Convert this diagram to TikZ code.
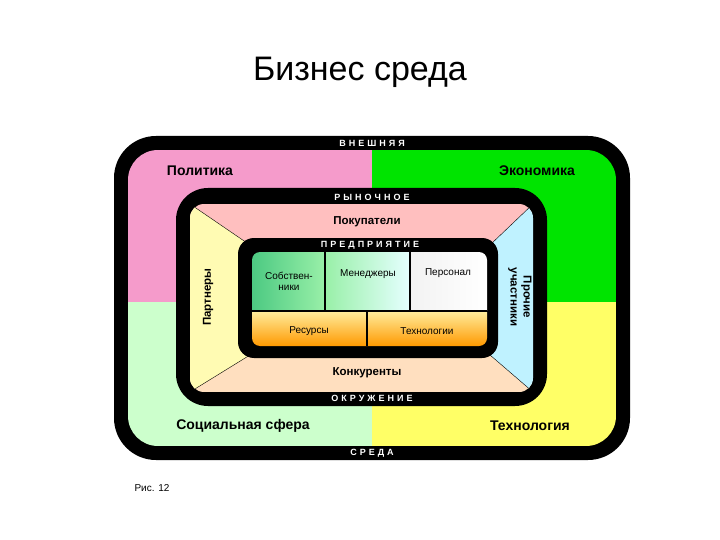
\documentclass[tikz,border=0pt]{standalone}
\usepackage{fontspec}
\setmainfont{Liberation Sans}
\definecolor{pk}{HTML}{F59BCB}
\definecolor{gr}{HTML}{00E400}
\definecolor{lg}{HTML}{CCFFCC}
\definecolor{yl}{HTML}{FFFF66}
\begin{document}
\begin{tikzpicture}[x=1pt,y=-1pt,
  lbl/.style={font=\bfseries\fontsize{14}{14}\selectfont},
  sp/.style={font=\bfseries\fontsize{9}{9}\selectfont,text=white},
  mid/.style={font=\bfseries\fontsize{11.5}{13}\selectfont},
  sm/.style={font=\fontsize{10}{11}\selectfont,align=center}]
\useasboundingbox (0,0) rectangle (720,540);
\fill[white] (0,0) rectangle (720,540);
\node (title) at (360,72) {\fontsize{34}{36}\selectfont Бизнес среда};
\node (fig) at (152,488) {\fontsize{10}{12}\selectfont Рис. 12};
% outer
\fill[black,rounded corners=42] (114,136) rectangle (630,460);
\begin{scope}
\clip[rounded corners=30] (128,150) rectangle (616,446);
\fill[pk] (128,150) rectangle (372,302);
\fill[gr] (372,150) rectangle (616,302);
\fill[lg] (128,302) rectangle (372,446);
\fill[yl] (372,302) rectangle (616,446);
\end{scope}
\node[sp] (vn) at (372,143) {В\,\,Н\,\,Е\,\,Ш\,\,Н\,\,Я\,\,Я};
\node[sp] (sr) at (372,453) {С\,\,Р\,\,Е\,\,Д\,\,А};
\node[lbl] (pol) at (200,171) {Политика};
\node[lbl] (eco) at (537,171) {Экономика};
\node[lbl] (soc) at (243,426) {Социальная сфера};
\node[lbl] (teh) at (530,426) {Технология};
% market
\fill[black,rounded corners=32] (176,188) rectangle (547,406);
\begin{scope}
\clip[rounded corners=14] (190,204) rectangle (533,392);
\fill[red!25] (190,204) rectangle (533,300);
\fill[orange!25] (190,300) rectangle (533,392);
\fill[yellow!30] (190,204) -- (250,245) -- (250,355) -- (190,392) -- cycle;
\fill[blue!20!cyan!25] (533,204) -- (490,245) -- (490,355) -- (533,392) -- cycle;
\draw[black,thin] (190,204) -- (250,245) (190,392) -- (250,355) (533,204) -- (490,245) (533,392) -- (490,355);
\end{scope}
\node[sp] (ryn) at (372,197) {Р\,\,Ы\,\,Н\,\,О\,\,Ч\,\,Н\,\,О\,\,Е};
\node[sp] (okr) at (372,398) {О\,\,К\,\,Р\,\,У\,\,Ж\,\,Е\,\,Н\,\,И\,\,Е};
\node[mid] (pok) at (367,222) {Покупатели};
\node[mid] (kon) at (367,373) {Конкуренты};
\node[mid,rotate=90] (par) at (208,297) {Партнеры};
\node[mid,rotate=-90,align=center] (pro) at (520,297) {Прочие\\участники};
% enterprise
\fill[black,rounded corners=16] (238,238) rectangle (498,358);
\node[sp] (pred) at (370,245) {П\,\,Р\,\,Е\,\,Д\,\,П\,\,Р\,\,И\,\,Я\,\,Т\,\,И\,\,Е};
\begin{scope}
\clip[rounded corners=8] (252,252) rectangle (487,346);
\shade[left color=teal!60!green!70, right color=teal!30!green!40] (252,252) rectangle (325,310);
\shade[left color=teal!30!green!40, right color=cyan!10] (325,252) rectangle (410,310);
\shade[left color=gray!10, right color=white] (410,252) rectangle (487,310);
\shade[top color=yellow!60!orange!40, bottom color=orange!80!yellow] (252,312) rectangle (487,346);
\draw[black,line width=1.5pt] (325,252) -- (325,310) (410,252) -- (410,310) (367,312) -- (367,346);
\draw[black,line width=2pt] (252,311) -- (487,311);
\end{scope}
\node[sm] (sob) at (289,281) {Собствен-\\ники};
\node[sm] (men) at (368,274) {Менеджеры};
\node[sm] (per) at (448,273) {Персонал};
\node[sm] (res) at (309,331) {Ресурсы};
\node[sm] (tex) at (427,331) {Технологии};
\end{tikzpicture}
\end{document}
